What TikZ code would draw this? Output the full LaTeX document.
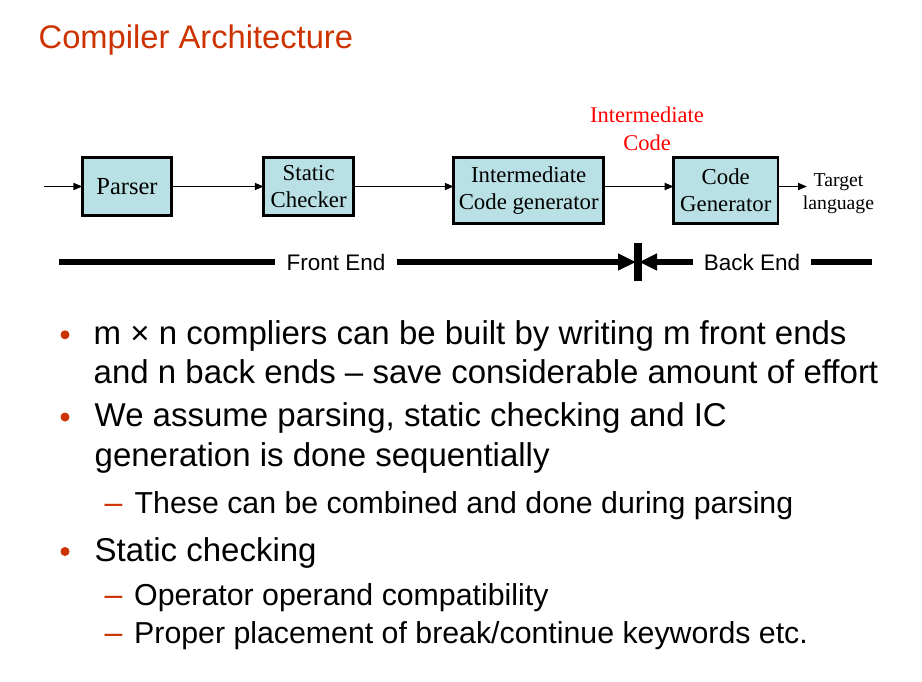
\documentclass[tikz,border=0pt]{standalone}
\usepackage{fontspec}
\setmainfont{Liberation Serif}
\setsansfont{Liberation Sans}
\usetikzlibrary{arrows.meta}
\definecolor{accent}{RGB}{204,51,0}
\definecolor{boxfill}{RGB}{185,224,228}
\begin{document}
\begin{tikzpicture}[x=1pt,y=-1pt,
  stage/.style={draw=black, line width=2.8pt, fill=boxfill, align=center,
    inner sep=0pt, outer sep=0pt, font=\fontsize{22.8}{26.5}\selectfont},
  flow/.style={line width=1.8pt, -{Triangle[length=9pt,width=7pt]}},
  span/.style={line width=6pt},
  spanarrow/.style={line width=6pt, -{Triangle[length=18pt,width=16pt]}},
  lbl/.style={font=\sffamily\fontsize{22.5}{27}\selectfont, inner xsep=11pt, inner ysep=0pt},
  bodytext/.style={font=\sffamily\fontsize{33}{39}\selectfont, anchor=base west, inner sep=0pt},
  subtext/.style={font=\sffamily\fontsize{30.3}{36}\selectfont, anchor=base west, inner sep=0pt},
  dot/.style={circle, fill=accent, minimum size=9pt, inner sep=0pt},
  subdash/.style={font=\sffamily\fontsize{32}{36}\selectfont, text=accent, anchor=base west, inner sep=0pt},
]
\useasboundingbox (0,0) rectangle (922,681);

% title
\node[font=\sffamily\fontsize{32.7}{39}\selectfont, text=accent, anchor=base west, inner sep=0pt]
  (title) at (38.5,48.5) {Compiler Architecture};

% compiler stages
\node[stage, minimum width=89.2pt, minimum height=58.2pt, font=\fontsize{24.5}{28}\selectfont] (parser) at (127,186.5) {Parser};
\node[stage, minimum width=89.9pt, minimum height=58.2pt] (static) at (308.7,186.5) {Static\\Checker};
\node[stage, minimum width=149.9pt, minimum height=66.5pt] (icg) at (528.7,190.4) {Intermediate\\Code generator};
\node[stage, minimum width=104.2pt, minimum height=66.5pt] (cg) at (725.8,190.4) {Code\\Generator};

\node[font=\fontsize{19.7}{23}\selectfont, align=center] (target) at (838.5,194) {Target\\language};
\node[text=red, font=\fontsize{22.5}{27.5}\selectfont, align=center] (iclabel) at (647,128.6) {Intermediate\\Code};

% data flow
\coordinate (src) at (44,186.5);
\coordinate (sink) at (807,186.5);
\draw[flow] (src) -- (parser.west);
\draw[flow] (parser.east) -- (static.west);
\draw[flow] (static.east) -- (static.east -| icg.west);
\draw[flow] (icg.east |- static.east) -- (cg.west |- static.east);
\draw[flow] (cg.east |- static.east) -- (sink);

% front end / back end split
\node[lbl] (fe) at (336,262) {Front End};
\node[lbl] (be) at (752,262) {Back End};
\coordinate (feStart) at (59,262);
\coordinate (beEnd) at (872,262);
\coordinate (split) at (637.5,262);
\coordinate (barTop) at (637.5,243);
\coordinate (barBot) at (637.5,281);
\draw[span] (feStart) -- (fe.west);
\draw[spanarrow] (fe.east) -- ([xshift=-1.5pt]split);
\draw[spanarrow] (be.west) -- ([xshift=1.5pt]split);
\draw[span] (be.east) -- (beEnd);
\draw[line width=8pt] (barTop) -- (barBot);

% bullet points
\node[dot] (d1) at (65,334.8) {};
\node[bodytext] (l1a) at (93.5,344.3) {m × n compliers can be built by writing m front ends};
\node[bodytext] (l1b) at (93.5,383.3) {and n back ends – save considerable amount of effort};

\node[dot] (d2) at (65,417) {};
\node[bodytext] (l2a) at (94.5,426.5) {We assume parsing, static checking and IC};
\node[bodytext] (l2b) at (94.5,466.5) {generation is done sequentially};

\node[subdash] (s1) at (104.5,513.3) {–};
\node[subtext] (l3) at (134.5,513.3) {These can be combined and done during parsing};

\node[dot] (d3) at (65,551.5) {};
\node[bodytext] (l4) at (94.5,561) {Static checking};

\node[subdash] (s2) at (104.5,605.5) {–};
\node[subtext] (l5) at (134,605.5) {Operator operand compatibility};
\node[subdash] (s3) at (104.5,643.3) {–};
\node[subtext] (l6) at (134,643.3) {Proper placement of break/continue keywords etc.};
\end{tikzpicture}
\end{document}
